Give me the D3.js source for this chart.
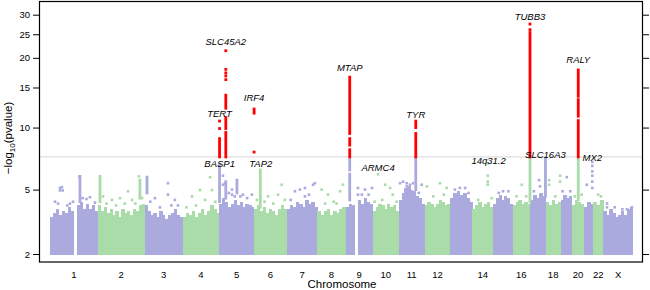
<!DOCTYPE html>
<html><head><meta charset="utf-8">
<script src="https://cdn.jsdelivr.net/npm/d3@7"></script>
<style>body{margin:0;background:#fff}svg{display:block}text{font-family:"Liberation Sans",Arial,Helvetica,sans-serif}</style>
</head><body><svg id="c" width="650" height="290"></svg>
<script>
// ---------------- data ----------------
const chromosomes = ["1","2","3","4","5","6","7","8","9","10","11","12","13","14","15","16","17","18","19","20","21","22","X"];
const chromLengths = [249.25,243.2,198.0,191.15,180.9,171.1,159.1,146.4,141.2,135.5,135.0,133.85,115.2,107.3,102.5,90.35,81.2,78.1,59.1,63.0,48.1,51.3,155.3]; // Mb
const axisLabels = ["1","2","3","4","5","6","7","8","9","10","11","12","14","16","18","20","22","X"];
const yTicks = [2,5,10,15,20,25,30];
const threshold = 7.3; // -log10(5e-8)

// top of the dense point mass (-log10 p), evenly spaced along each chromosome (null = no SNPs)
const massTop = [
  [3.5,3.7,3.9,3.6,3.8,3.7,4.0,3.8,null,4.1,4.3,3.9,4.2,3.9,4.1,3.8],
  [4.1,3.8,4.0,3.7,3.9,3.6,3.8,3.5,3.9,3.7,3.8,3.6,3.9,3.8,4.1,4.2],
  [4.1,3.8,3.6,3.7,3.5,3.8,3.6,3.4,3.6,3.7,3.9,3.6,3.5],
  [3.5,3.7,3.6,3.8,3.5,3.7,3.9,3.6,3.8,4.1,3.9,3.7],
  [4.2,4.5,4.3,4.0,4.2,4.4,4.1,4.3,4.0,4.2,4.1,4.0],
  [3.9,4.1,3.8,4.0,3.7,3.9,3.8,3.6,3.9,4.1,3.9],
  [3.9,4.1,4.0,4.3,4.2,4.0,4.4,4.2,4.3,4.0],
  [3.8,3.6,3.8,3.9,3.6,3.8,3.7,3.9,4.0],
  [4.0,4.2,4.1,null,4.4,4.2,4.5,4.3,4.2],
  [3.8,4.0,4.2,4.1,3.9,4.2,4.0,4.1,3.8],
  [4.4,4.8,5.1,5.2,5.0,4.9,4.6,4.5,4.2],
  [4.1,4.3,4.2,4.0,4.2,4.4,4.3,4.1,4.2],
  [4.5,4.8,4.9,4.7,4.8,4.5,4.3],
  [3.9,4.1,4.3,4.0,4.2,4.3,4.0],
  [4.2,4.5,4.7,4.4,4.6,4.5,4.2],
  [4.1,4.3,4.4,4.2,4.3,4.2],
  [4.4,4.7,4.5,4.8,4.6],
  [4.3,4.1,4.4,4.2,4.3],
  [4.4,4.7,4.5,4.6],
  [4.1,4.4,4.3,4.2],
  [4.0,4.3,4.2],
  [4.3,4.1,4.4],
  [3.8,3.6,3.9,3.7,3.5,3.6,3.8,3.6,3.9,4.0]
];

// individual SNPs above the mass: [chromosome, position Mb, -log10 p]
const scatterPoints = [
  ["1",26,4.3],["1",42,4.2],["1",52,5.1],["1",62,5.15],["1",52,4.95],["1",66,4.95],["1",90,4.1],["1",104,4.2],["1",120,4.3],["1",153,5.85],["1",170,4.5],["1",190,4.45],["1",208,4.55],["1",234,4.25],
  ["2",27,4.6],["2",45,4.2],["2",73,4.4],["2",95,4.1],["2",115,4.5],["2",140,4.2],["2",157,4.9],["2",178,4.4],["2",195,4.2],["2",214,5.85],["2",230,4.5],
  ["3",30,4.3],["3",54,4.5],["3",80,4.0],["3",122,5.4],["3",122,4.7],["3",140,4.1],["3",158,4.4],["3",174,4.1],
  ["4",20,4.0],["4",49,4.6],["4",70,4.1],["4",91,4.97],["4",117,4.4],["4",143,5.8],["4",153,4.97],["4",170,4.3],
  ["5",19,5.9],["5",19,5.3],["5",30,5.4],["5",50,4.8],["5",66,5.0],["5",66,4.7],["5",80,4.6],["5",110,4.6],["5",123,4.7],["5",145,4.5],["5",170,4.7],
  ["6",15,4.4],["6",55,4.3],["6",73,4.6],["6",100,4.2],["6",125,4.7],["6",144,5.3],["6",160,4.4],
  ["7",20,4.4],["7",42,4.9],["7",68,5.0],["7",94,5.1],["7",94,4.6],["7",115,4.7],["7",136,5.3],["7",146,5.4],
  ["8",22,5.0],["8",40,4.2],["8",55,4.7],["8",85,4.3],["8",100,4.2],["8",118,4.9],["8",133,5.3],
  ["9",65,5.1],["9",65,4.7],["9",85,4.7],["9",101,5.0],["9",120,4.7],["9",138,5.1],
  ["10",10,4.3],["10",28.1,6.0],["10",50,4.4],["10",65,5.3],["10",91,5.1],["10",105,4.7],["10",125,4.3],
  ["11",7,5.4],["11",23,5.5],["11",42,5.4],["11",42,5.2],["11",59,5.3],["11",75,5.4],["11",105,4.8],["11",120,5.3],
  ["12",12,5.2],["12",45,4.6],["12",80,5.4],["12",100,4.7],["12",115,5.1],
  ["13",24,5.0],["13",50,5.1],["13",77,5.1],["13",95,4.8],
  ["14",30,4.4],["14",80,6.8],["14",80,5.9],["14",80,5.5],["14",80,5.3],["14",100,4.5],
  ["15",30,4.8],["15",52,4.9],["15",80,4.9],
  ["16",20,4.6],["16",47,5.3],["16",70,4.6],
  ["17",20,4.9],["17",47,5.6],["17",52,5.2],
  ["18",18,5.6],["18",18,5.3],["18",50,4.6],["18",75,5.9],["18",75,5.5],
  ["19",10,4.9],["19",32,5.8],["19",50,4.9],
  ["20",15,4.6],["20",50,4.7],
  ["21",14,5.3],["21",42.7,6.9],["21",42.7,6.6],["21",42.7,6.2],["21",42.7,5.9],["21",42.7,5.5],["21",42.7,5.1],
  ["22",25,4.7],["22",40,4.6],
  ["X",20,4.2],["X",20,4.0],["X",60,4.0],["X",100,3.9],["X",124,3.9],["X",150,4.0]
];

// dense vertical runs of SNPs at association peaks: [chromosome, position Mb, low, high]
const peakRuns = [
  ["1",156,4.3,5.85],["2",11,4.3,5.85],["2",219,4.5,5.6],["3",12.5,4.8,5.8],["5",92,4.8,5.6],
  ["5",1.3,4.3,6.7],["5",1.3,7.3,8.9],["5",1.3,9.9,9.9],["5",1.3,10.7,10.7],
  ["5",33.9,4.5,5.5],["5",33.9,7.3,9.5],["5",33.9,9.9,11.1],["5",33.9,12.2,13.9],
  ["5",33.9,16.2,16.2],["5",33.9,16.8,16.8],["5",33.9,17.3,17.3],["5",33.9,17.9,17.9],["5",33.9,21.4,21.4],
  ["6",0.4,7.7,7.7],["6",0.4,11.6,12.1],
  ["6",32.8,4.0,6.3],
  ["9",21.8,4.4,6.0],["9",21.8,6.3,7.1],["9",21.8,7.3,7.9],["9",21.8,8.3,8.9],["9",21.8,9.4,16.6],
  ["11",89.0,5.0,7.2],["11",89.0,7.3,9.4],["11",89.0,10.0,10.7],
  ["16",90.0,4.3,7.2],["16",90.0,7.3,25.4],["16",90.0,26.1,26.1],["16",90.0,27.5,27.5],
  ["17",80.2,4.6,7.1],
  ["20",32.6,4.4,7.2],["20",32.6,7.3,10.75],["20",32.6,11.25,13.3],["20",32.6,13.75,17.8]
];

// gene labels: [text, chromosome, position Mb, label value (baseline)]
const geneLabels = [
  ["SLC45A2","5",33.9,22.6],["TERT","5",1.3,11.1],["IRF4","6",0.4,13.1],["BASP1","5",1.8,6.55],["TAP2","6",35,6.55],
  ["MTAP","9",21.8,17.6],["TYR","11",89.0,11.0],["ARMC4","10",28.1,6.2],["14q31.2","14",84,6.75],
  ["TUBB3","16",90.0,28.6],["SLC16A3","17",80.2,7.2],["RALY","20",32.6,19.0],["MX2","21",42.7,7.0]
];

// ---------------- drawing ----------------
const purple = "#aaaadf", green = "#aadcaa", red = "#ff0000";
const frame = {l: 39.5, r: 642.5, t: 1.5, b: 262};
const starts = [];
let acc = 0;
chromLengths.forEach(l => { starts.push(acc); acc += l; });
const total = acc;
const chrIdx = c => chromosomes.indexOf(c);
const chrColor = c => (chrIdx(c) % 2 === 0 ? purple : green);

const x = d3.scaleLinear().domain([0, total]).range([50, 633]);
const y = d3.scaleSymlog().constant(2).domain([2, 30]).range([254, 14.7]);
const gx = (c, p) => x(starts[chrIdx(c)] + p);

const svg = d3.select("#c");
const plot = svg.append("g");

// threshold line
plot.append("line").attr("x1", frame.l).attr("x2", frame.r)
  .attr("y1", y(threshold)).attr("y2", y(threshold))
  .attr("stroke", "#d6d6d6").attr("stroke-width", 1);

// dense masses
const massRects = [];
massTop.forEach((arr, ci) => {
  const n = arr.length, step = chromLengths[ci] / n;
  arr.forEach((v, i) => {
    if (v == null) return;
    massRects.push({ci, x0: starts[ci] + i * step, x1: starts[ci] + (i + 1) * step, v});
  });
});
plot.append("g").attr("shape-rendering", "crispEdges").selectAll("rect").data(massRects).join("rect")
  .attr("x", d => x(d.x0)).attr("width", d => x(d.x1) - x(d.x0) + 0.4)
  .attr("y", d => y(d.v)).attr("height", d => y(2) + 1.3 - y(d.v))
  .attr("fill", d => (d.ci % 2 === 0 ? purple : green));

// scattered points
const ps = 2.6;
plot.append("g").selectAll("rect").data(scatterPoints).join("rect")
  .attr("x", d => gx(d[0], d[1]) - ps / 2).attr("y", d => y(d[2]) - ps / 2)
  .attr("width", ps).attr("height", ps).attr("fill", d => chrColor(d[0]));

// peak runs
plot.append("g").selectAll("rect").data(peakRuns).join("rect")
  .attr("x", d => gx(d[0], d[1]) - 1.4).attr("width", 2.8)
  .attr("y", d => y(d[3]) - 1.4).attr("height", d => y(d[2]) - y(d[3]) + 2.8)
  .attr("fill", d => (d[2] >= threshold ? red : chrColor(d[0])));

// gene labels
svg.append("g").selectAll("text").data(geneLabels).join("text")
  .attr("x", d => gx(d[1], d[2])).attr("y", d => y(d[3]))
  .attr("text-anchor", "middle").attr("font-style", "italic").attr("font-size", "9.5px")
  .attr("fill", "#000").text(d => d[0]);

// frame
svg.append("rect").attr("x", frame.l).attr("y", frame.t)
  .attr("width", frame.r - frame.l).attr("height", frame.b - frame.t)
  .attr("fill", "none").attr("stroke", "#000").attr("stroke-width", 1.2);

// y axes (left with labels, right ticks only)
const yAxisL = d3.axisLeft(y).tickValues(yTicks).tickSize(6).tickPadding(3).tickFormat(d3.format("d"));
const gl = svg.append("g").attr("transform", `translate(${frame.l - 0.5},0)`).call(yAxisL);
gl.select(".domain").remove();
gl.selectAll("text").attr("font-size", "9.5px").attr("font-family", "Liberation Sans, Arial, sans-serif");
const yAxisR = d3.axisRight(y).tickValues(yTicks).tickSize(6).tickFormat("");
const gr = svg.append("g").attr("transform", `translate(${frame.r + 0.5},0)`).call(yAxisR);
gr.select(".domain").remove();

// chromosome labels
svg.append("g").selectAll("text").data(axisLabels).join("text")
  .attr("x", c => gx(c, chromLengths[chrIdx(c)] / 2)).attr("y", 277.5)
  .attr("text-anchor", "middle").attr("font-size", "9.5px").text(c => c);

svg.append("text").attr("x", 342).attr("y", 288).attr("text-anchor", "middle")
  .attr("font-size", "11.5px").text("Chromosome");

const yt = svg.append("text").attr("transform", "translate(12,138) rotate(-90)")
  .attr("text-anchor", "middle").attr("font-size", "11.5px");
yt.append("tspan").text("\u2212log");
yt.append("tspan").attr("font-size", "8px").attr("dy", 3).text("10");
yt.append("tspan").attr("dy", -3).text("(pvalue)");
</script></body></html>
